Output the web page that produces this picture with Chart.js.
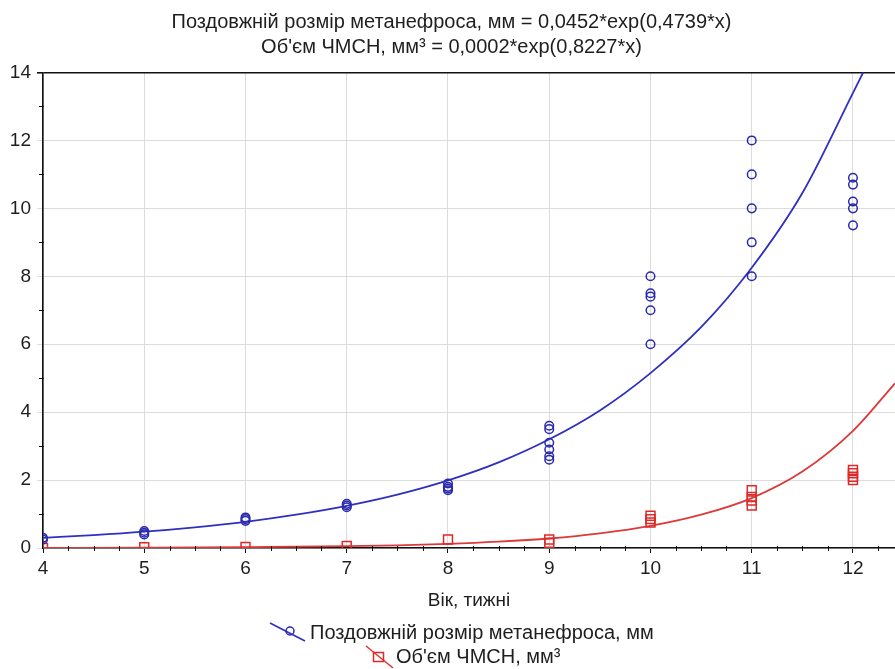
<!DOCTYPE html>
<html>
<head>
<meta charset="utf-8">
<script src="https://cdn.jsdelivr.net/npm/chart.js@4/dist/chart.umd.min.js"></script>
<style>
  html, body { margin: 0; padding: 0; background: #fff; }
  #wrap { width: 895px; height: 669px; }
</style>
</head>
<body>
<div id="wrap"><canvas id="c" width="895" height="669"></canvas></div>
<script>
// ---- Data ----
const titleLines = [
  "Поздовжній розмір метанефроса, мм = 0,0452*exp(0,4739*x)",
  "Об'єм ЧМСН, мм³ = 0,0002*exp(0,8227*x)"
];
const xAxisLabel = "Вік, тижні";
const seriesNames = ["Поздовжній розмір метанефроса, мм", "Об'єм ЧМСН, мм³"];

// observations (age in weeks, value)
const lengthX = [4, 4, 5, 5, 5, 6, 6, 6, 7, 7, 7, 8, 8, 8, 8, 9, 9, 9, 9, 9, 9, 10, 10, 10, 10, 10, 11, 11, 11, 11, 11, 12, 12, 12, 12, 12];
const lengthY = [0.25, 0.3, 0.4, 0.45, 0.5, 0.8, 0.85, 0.9, 1.2, 1.25, 1.3, 1.7, 1.75, 1.8, 1.9, 2.6, 2.7, 2.9, 3.1, 3.5, 3.6, 6, 7, 7.4, 7.5, 8, 8, 9, 10, 11, 12, 9.5, 10, 10.2, 10.7, 10.9];

const volumeX = [4, 5, 6, 7, 8, 9, 9, 10, 10, 10, 11, 11, 11, 11, 12, 12, 12, 12];
const volumeY = [0, 0.02, 0.03, 0.06, 0.25, 0.15, 0.25, 0.75, 0.85, 0.95, 1.25, 1.4, 1.5, 1.7, 2.0, 2.1, 2.2, 2.3];

// fitted curves
const lengthFitX = [4, 4.5, 5, 5.5, 6, 6.5, 7, 7.5, 8, 8.5, 9, 9.5, 10, 10.5, 11, 11.5, 12, 12.1, 12.2];
const lengthFitY = [0.3, 0.38, 0.48, 0.61, 0.77, 0.98, 1.24, 1.57, 1.99, 2.52, 3.2, 4.05, 5.15, 6.5, 8.25, 10.45, 13.4, 14.0, 14.6];

const volumeFitX = [4, 5, 6, 7, 7.5, 8, 8.5, 9, 9.5, 10, 10.5, 11, 11.5, 12, 12.415];
const volumeFitY = [0.004, 0.01, 0.023, 0.053, 0.08, 0.12, 0.185, 0.28, 0.43, 0.65, 0.98, 1.47, 2.25, 3.45, 4.85];

const xTicks = [4, 5, 6, 7, 8, 9, 10, 11, 12];
const yTicks = [0, 2, 4, 6, 8, 10, 12, 14];

// ---- styling ----
const BLUE = '#2a2ab0';
const BLUE_LINE = '#2f2fc0';
const RED = '#e02828';
const RED_LINE = '#dc3a3a';
const TEXT = '#1e1e1e';
const FONT = "'Liberation Sans', Arial, sans-serif";

const pts = (xs, ys) => xs.map((x, i) => ({ x: x, y: ys[i] }));

const minorTicks = {
  id: 'minorTicks',
  afterDraw(chart) {
    const { ctx, chartArea: a, scales: { x, y } } = chart;
    ctx.save();
    ctx.strokeStyle = '#111';
    ctx.lineWidth = 1;
    ctx.beginPath();
    for (let v = 4; v <= 12.4; v += 0.25) {
      if (Math.abs(v - Math.round(v)) < 1e-6) continue;
      const px = Math.round(x.getPixelForValue(v)) + 0.5;
      ctx.moveTo(px, a.bottom - 2);
      ctx.lineTo(px, a.bottom + 3);
    }
    for (let v = 1; v < 14; v += 2) {
      const py = Math.round(y.getPixelForValue(v)) + 0.5;
      ctx.moveTo(a.left - 4, py);
      ctx.lineTo(a.left + 1, py);
    }
    ctx.stroke();
    ctx.restore();
  }
};

const customLegend = {
  id: 'customLegend',
  afterDraw(chart) {
    const { ctx } = chart;
    ctx.save();
    ctx.font = "20px " + FONT;
    ctx.fillStyle = TEXT;
    ctx.textBaseline = 'middle';
    ctx.textAlign = 'left';
    // item 1
    ctx.strokeStyle = BLUE_LINE;
    ctx.lineWidth = 1.6;
    ctx.beginPath(); ctx.moveTo(270, 623); ctx.lineTo(305, 641); ctx.stroke();
    ctx.strokeStyle = BLUE;
    ctx.lineWidth = 1.5;
    ctx.beginPath(); ctx.arc(290, 631, 4, 0, Math.PI * 2); ctx.stroke();
    ctx.fillText(seriesNames[0], 310, 633);
    // item 2
    ctx.strokeStyle = RED_LINE;
    ctx.lineWidth = 1.6;
    ctx.beginPath(); ctx.moveTo(366, 646); ctx.lineTo(393, 668); ctx.stroke();
    ctx.strokeStyle = RED;
    ctx.lineWidth = 1.5;
    ctx.strokeRect(373.5, 652.5, 10, 9);
    ctx.fillText(seriesNames[1], 396, 657);
    ctx.restore();
  }
};

new Chart(document.getElementById('c'), {
  type: 'scatter',
  data: {
    datasets: [
      {
        label: seriesNames[0] + ' fit',
        type: 'line',
        data: pts(lengthFitX, lengthFitY),
        borderColor: BLUE_LINE,
        borderWidth: 1.8,
        pointRadius: 0,
        showLine: true,
        fill: false,
        cubicInterpolationMode: 'monotone',
        clip: 0,
        order: 2
      },
      {
        label: seriesNames[1] + ' fit',
        type: 'line',
        data: pts(volumeFitX, volumeFitY),
        borderColor: RED_LINE,
        borderWidth: 1.8,
        pointRadius: 0,
        showLine: true,
        fill: false,
        cubicInterpolationMode: 'monotone',
        clip: 0,
        order: 2
      },
      {
        label: seriesNames[0],
        data: pts(lengthX, lengthY),
        pointStyle: 'circle',
        pointRadius: 4.3,
        pointBorderWidth: 1.5,
        pointBorderColor: BLUE,
        pointBackgroundColor: 'rgba(0,0,0,0)',
        borderColor: BLUE,
        clip: 0,
        order: 1
      },
      {
        label: seriesNames[1],
        data: pts(volumeX, volumeY),
        pointStyle: 'rect',
        pointRadius: 6.3,
        pointBorderWidth: 1.5,
        pointBorderColor: RED,
        pointBackgroundColor: 'rgba(0,0,0,0)',
        borderColor: RED,
        clip: 0,
        order: 1
      }
    ]
  },
  options: {
    responsive: false,
    animation: false,
    layout: { autoPadding: false, padding: { left: 8, right: 0, top: 0, bottom: 51 } },
    plugins: {
      legend: { display: false },
      tooltip: { enabled: false },
      title: {
        display: true,
        text: titleLines,
        color: TEXT,
        font: { family: FONT, size: 20, weight: 'normal', lineHeight: 1.25 },
        padding: { top: 10, bottom: 12.5 }
      }
    },
    scales: {
      x: {
        type: 'linear',
        min: 4,
        max: 12.415,
        afterBuildTicks(scale) { scale.ticks = xTicks.map(v => ({ value: v })); },
        afterFit(scale) { scale.height = 70; scale.paddingLeft = 0; scale.paddingRight = 0; },
        ticks: {
          color: TEXT,
          font: { family: FONT, size: 19 },
          padding: 4,
          maxRotation: 0,
          autoSkip: false
        },
        grid: {
          color: '#dcdcdc',
          lineWidth: 1,
          tickLength: 5,
          tickColor: '#111'
        },
        border: { display: true, color: '#111', width: 1.6 },
        title: {
          display: true,
          text: xAxisLabel,
          color: TEXT,
          font: { family: FONT, size: 19 },
          padding: { top: 4, bottom: 6 }
        }
      },
      y: {
        type: 'linear',
        min: 0,
        max: 14,
        afterBuildTicks(scale) { scale.ticks = yTicks.map(v => ({ value: v })); },
        afterFit(scale) { scale.width = 35; scale.paddingTop = 0; scale.paddingBottom = 0; },
        ticks: {
          color: TEXT,
          font: { family: FONT, size: 19 },
          padding: 6
        },
        grid: {
          color: ctx => (ctx.tick && ctx.tick.value === 14 ? '#111' : '#dcdcdc'),
          lineWidth: ctx => (ctx.tick && ctx.tick.value === 14 ? 1.6 : 1),
          tickLength: 6
        },
        border: { display: true, color: '#111', width: 1.6 }
      }
    }
  },
  plugins: [minorTicks, customLegend]
});
</script>
</body>
</html>
